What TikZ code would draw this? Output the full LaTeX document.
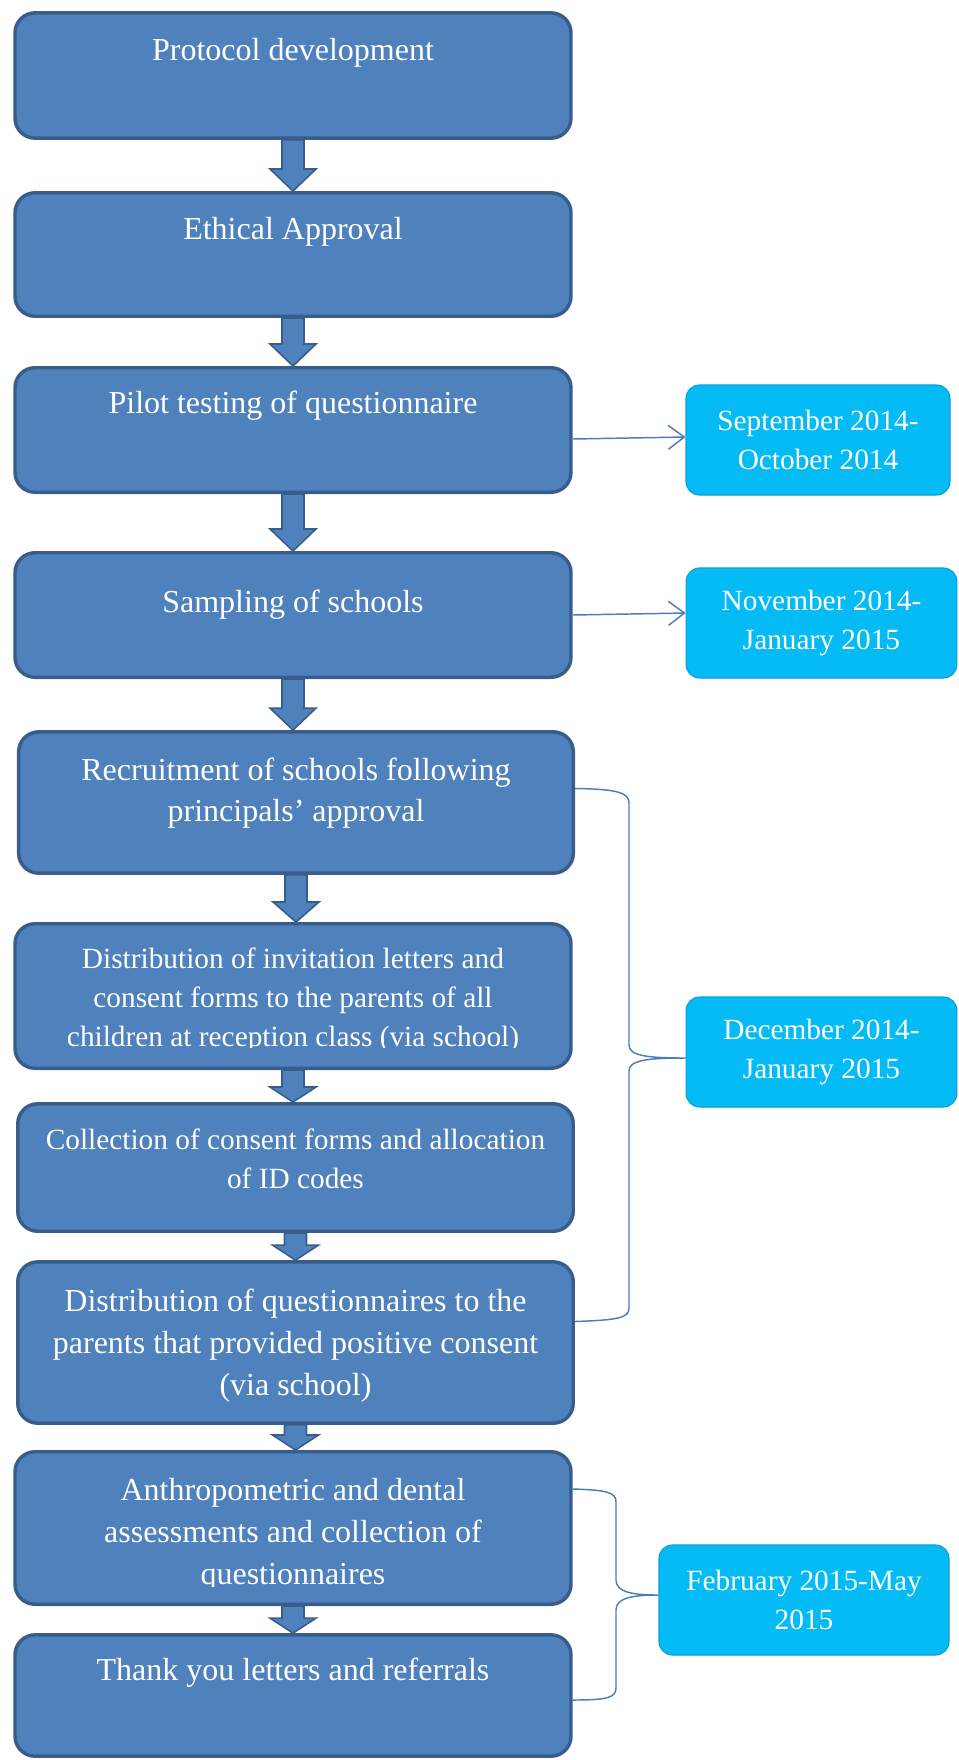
\documentclass[tikz,border=0pt]{standalone}
\usepackage{fontspec}
\setmainfont{Liberation Serif}
\usetikzlibrary{arrows.meta,calc,positioning}

\definecolor{stepFill}{HTML}{4F81BD}
\definecolor{stepLine}{HTML}{385D8A}
\definecolor{dateFill}{HTML}{05BBF5}
\definecolor{dateLine}{HTML}{0A9ED6}
\definecolor{linkBlue}{HTML}{4A7EBB}

\tikzset{
  stepbox/.style={rectangle, rounded corners=15pt, fill=stepFill, draw=stepLine,
    line width=2.6pt, inner sep=0pt, minimum width=417pt},
  steptext/.style={text=white, align=center, inner sep=0pt, anchor=north,
    font=\fontsize{24}{30.5}\selectfont},
  widetext/.style={steptext, font=\fontsize{24}{31.5}\selectfont},
  smalltext/.style={steptext, font=\fontsize{22}{29}\selectfont},
  datebox/.style={rectangle, rounded corners=10pt, fill=dateFill, draw=dateLine,
    line width=0.8pt, minimum height=82.5pt, text=white, align=center,
    font=\fontsize{22}{29}\selectfont},
  blockarrow/.style={fill=stepFill, draw=stepLine, line width=1.2pt, line join=miter},
  link/.style={draw=linkBlue, line width=1.1pt},
}

% block arrow between two steps: from, to, head length (px)
\newcommand{\flowArrow}[3]{%
  \draw[blockarrow] ($(#1.south)+(-11,0)$) -- ($(#1.south |- #2.north)+(-11,-#3)$)
    -- ($(#1.south |- #2.north)+(-23,-#3)$) -- (#1.south |- #2.north)
    -- ($(#1.south |- #2.north)+(23,-#3)$) -- ($(#1.south |- #2.north)+(11,-#3)$)
    -- ($(#1.south)+(11,0)$) -- cycle;}

\begin{document}
\begin{tikzpicture}[x=0.75pt,y=-0.75pt]
\useasboundingbox (0,0) rectangle (958,1760);

% steps
\node[stepbox, minimum height=94pt] (proto) at (293,75.5) {};
\node[stepbox, minimum height=92.6pt] (ethic) at (293,254.5) {};
\node[stepbox, minimum height=93.4pt] (pilot) at (293,430) {};
\node[stepbox, minimum height=93.4pt] (sample) at (293,615) {};
\node[stepbox, minimum height=106pt, minimum width=416pt] (recruit) at (296,802.5) {};
\node[stepbox, minimum height=108.4pt] (invite) at (293,996) {};
\node[stepbox, minimum height=95.6pt, minimum width=416.6pt] (collect) at (295.5,1167.5) {};
\node[stepbox, minimum height=121pt, minimum width=416.6pt] (distrib) at (295.5,1342.5) {};
\node[stepbox, minimum height=114.4pt] (assess) at (293,1528) {};
\node[stepbox, minimum height=91pt] (thanks) at (293,1695.5) {};

\node[steptext] (protoTxt) at (293,38) {Protocol development};
\node[steptext] (ethicTxt) at (293,217) {Ethical Approval};
\node[steptext] (pilotTxt) at (293,391) {Pilot testing of questionnaire};
\node[steptext] (sampleTxt) at (293,590) {Sampling of schools};
\node[steptext] (recruitTxt) at (296,758) {Recruitment of schools following\\principals’ approval};
\begin{scope}
  \clip (13,925) rectangle (573,1047);
  \node[smalltext] (inviteTxt) at (293,948) {Distribution of invitation letters and\\consent forms to the parents of all\\children at reception class (via school)};
\end{scope}
\node[smalltext] (collectTxt) at (295.5,1129) {Collection of consent forms and allocation\\of ID codes};
\node[widetext] (distribTxt) at (295.5,1289) {Distribution of questionnaires to the\\parents that provided positive consent\\(via school)};
\begin{scope}
  \clip (13,1452) rectangle (573,1586);
  \node[widetext] (assessTxt) at (293,1478) {Anthropometric and dental\\assessments and collection of\\questionnaires};
\end{scope}
\node[steptext] (thanksTxt) at (293,1658) {Thank you letters and referrals};

\flowArrow{proto}{ethic}{22}
\flowArrow{ethic}{pilot}{22}
\flowArrow{pilot}{sample}{22}
\flowArrow{sample}{recruit}{22}
\flowArrow{recruit}{invite}{20}
\flowArrow{invite}{collect}{15}
\flowArrow{collect}{distrib}{15}
\flowArrow{distrib}{assess}{15}
\flowArrow{assess}{thanks}{15}

% dates
\node[datebox, minimum width=198pt] (sept) at (818,440) {September 2014-\\October 2014};
\node[datebox, minimum width=203pt] (nov) at (821.5,623) {November 2014-\\January 2015};
\node[datebox, minimum width=203pt] (dec) at (821.5,1052) {December 2014-\\January 2015};
\node[datebox, minimum width=217.5pt] (feb) at (804,1600) {February 2015-May\\2015};

\draw[link, -{Straight Barb[length=12pt,width=18pt]}] ($(pilot.east)+(0,9)$) -- ($(sept.west)+(0,-3)$);
\draw[link, -{Straight Barb[length=12pt,width=18pt]}] (sample.east) -- ($(nov.west)+(0,-10)$);

% braces
\coordinate (b1s) at ($(recruit.east)+(0,-14)$);
\coordinate (b1t) at ($(dec.west)+(0,6)$);
\coordinate (b1e) at ($(distrib.east)+(0,-21)$);
\draw[link] (b1s) .. controls (618,789) and (629,793) .. (629,803) -- (629,1045)
  .. controls (629,1056) and (648,1058) .. (b1t)
  .. controls (648,1058) and (629,1060) .. (629,1071) -- (629,1308)
  .. controls (629,1318) and (618,1320) .. (b1e);
\coordinate (b2s) at ($(assess.east)+(0,-39)$);
\coordinate (b2t) at ($(feb.west)+(0,-5)$);
\coordinate (b2e) at ($(thanks.east)+(0,4.5)$);
\draw[link] (b2s) .. controls (606,1490) and (616,1492) .. (616,1502) -- (616,1580)
  .. controls (616,1592) and (632,1595) .. (b2t)
  .. controls (632,1595) and (616,1598) .. (616,1610) -- (616,1688)
  .. controls (616,1698) and (606,1700) .. (b2e);
\end{tikzpicture}
\end{document}
